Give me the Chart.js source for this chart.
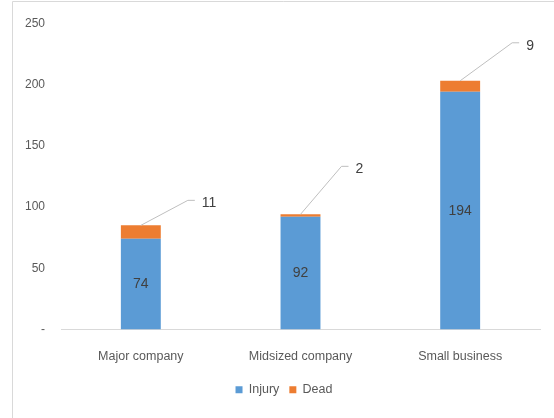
<!DOCTYPE html>
<html lang="en">
<head>
    <meta charset="UTF-8">
    <title>Injury and Dead by company size</title>
    <script src="https://cdn.jsdelivr.net/npm/chart.js"></script>
    <style>
        html, body { margin: 0; padding: 0; background: #fff; }
        #chart-box { width: 554px; height: 418px; }
    </style>
</head>
<body>
    <div id="chart-box">
        <canvas id="casualty-chart" width="554" height="418"></canvas>
    </div>

    <script>
        // categories and series
        const companySizes = ['Major company', 'Midsized company', 'Small business'];
        const injuryCounts = [74, 92, 194];
        const deadCounts = [11, 2, 9];
        const yTickValues = [0, 50, 100, 150, 200, 250];

        const FONT = '"Liberation Sans", Arial, sans-serif';
        const TEXT_GREY = '#595959';

        // light grey frame around the whole chart
        const framePlugin = {
            id: 'frame',
            beforeDraw(chart) {
                const ctx = chart.ctx;
                ctx.save();
                ctx.strokeStyle = '#d9d9d9';
                ctx.lineWidth = 1;
                ctx.beginPath();
                ctx.moveTo(12.5, chart.height);
                ctx.lineTo(12.5, 1.5);
                ctx.lineTo(chart.width, 1.5);
                ctx.stroke();
                ctx.restore();
            }
        };

        // legend sits a little right of the canvas centre
        const legendShift = {
            id: 'legendShift',
            afterLayout(chart) {
                if (chart.legend) {
                    chart.legend.left += 14;
                    chart.legend.right += 14;
                }
            }
        };

        // value labels: Injury inside the bar, Dead on a leader line
        const valueLabels = {
            id: 'valueLabels',
            afterDatasetsDraw(chart, args, opts) {
                const ctx = chart.ctx;
                ctx.save();
                ctx.font = '14px ' + FONT;
                ctx.fillStyle = '#404040';

                const injuryMeta = chart.getDatasetMeta(0);
                ctx.textAlign = 'center';
                ctx.textBaseline = 'middle';
                injuryMeta.data.forEach((bar, i) => {
                    ctx.fillText(String(injuryCounts[i]), bar.x, (bar.y + bar.base) / 2);
                });

                const deadMeta = chart.getDatasetMeta(1);
                deadMeta.data.forEach((bar, i) => {
                    const off = opts.leaders[i];
                    const ex = bar.x + off.dx;
                    const ey = bar.y + off.dy;
                    ctx.strokeStyle = '#bfbfbf';
                    ctx.lineWidth = 1;
                    ctx.beginPath();
                    ctx.moveTo(bar.x, bar.y);
                    ctx.lineTo(ex, ey);
                    ctx.lineTo(ex + 7, ey);
                    ctx.stroke();
                    ctx.textAlign = 'left';
                    ctx.fillText(String(deadCounts[i]), ex + 14, ey + 3);
                });
                ctx.restore();
            }
        };

        const ctx = document.getElementById('casualty-chart').getContext('2d');
        new Chart(ctx, {
            type: 'bar',
            data: {
                labels: companySizes,
                datasets: [
                    {
                        label: 'Injury',
                        data: injuryCounts,
                        backgroundColor: '#5B9BD5',
                        barPercentage: 0.5,
                        categoryPercentage: 0.5
                    },
                    {
                        label: 'Dead',
                        data: deadCounts,
                        backgroundColor: '#ED7D31',
                        barPercentage: 0.5,
                        categoryPercentage: 0.5
                    }
                ]
            },
            options: {
                responsive: false,
                animation: false,
                layout: { padding: { left: 0, right: 14, top: 17, bottom: 12 } },
                plugins: {
                    legend: {
                        position: 'bottom',
                        labels: {
                            boxWidth: 7,
                            boxHeight: 7,
                            padding: 10,
                            color: TEXT_GREY,
                            font: { family: FONT, size: 12.5 }
                        }
                    },
                    tooltip: { enabled: false },
                    valueLabels: {
                        leaders: [
                            { dx: 47, dy: -25 },
                            { dx: 41, dy: -48 },
                            { dx: 52, dy: -38 }
                        ]
                    }
                },
                scales: {
                    x: {
                        stacked: true,
                        grid: { display: false, drawTicks: false },
                        border: { display: true, color: '#d9d9d9' },
                        ticks: {
                            padding: 20,
                            color: TEXT_GREY,
                            font: { family: FONT, size: 12.5 }
                        },
                        afterFit(scale) { scale.height = 44; }
                    },
                    y: {
                        stacked: true,
                        min: 0,
                        max: 250,
                        afterBuildTicks(scale) {
                            scale.ticks = yTickValues.map(v => ({ value: v }));
                        },
                        grid: { display: false, drawTicks: false },
                        border: { display: false },
                        ticks: {
                            padding: 16,
                            color: TEXT_GREY,
                            font: { family: FONT, size: 12 },
                            callback: v => (v === 0 ? '-' : String(v))
                        },
                        afterFit(scale) { scale.width = 61; }
                    }
                }
            },
            plugins: [framePlugin, legendShift, valueLabels]
        });
    </script>
</body>
</html>
